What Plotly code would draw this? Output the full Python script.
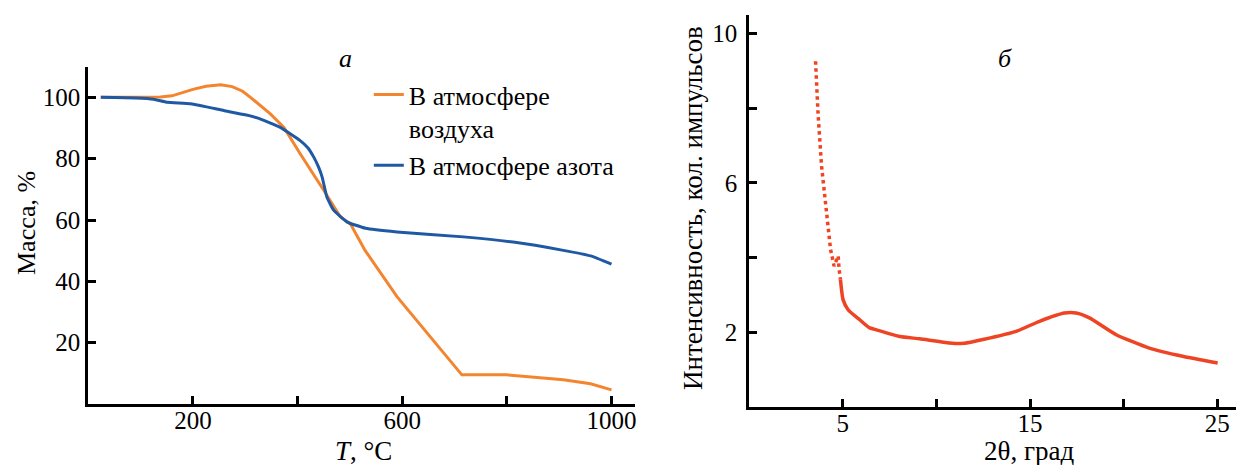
import plotly.graph_objects as go

# ---- Panel a: TGA ----
t_air = [24, 80, 138, 160, 180, 200, 225, 253, 275, 295, 310, 330, 348, 374, 405, 450, 482, 501, 529, 590, 714, 800, 908, 960, 1000]
m_air = [100, 100, 100.1, 100.5, 101.6, 102.6, 103.6, 104.1, 103.5, 102, 100, 97.3, 94.6, 90.2, 81.6, 69.7, 61, 58.8, 50.1, 35, 9.5, 9.5, 7.9, 6.6, 4.6]

t_n2 = [24, 90, 125, 151, 196, 259, 300, 323, 367, 405, 420, 431, 440, 447, 456, 469, 494, 530, 590, 717, 812, 908, 960, 1000]
m_n2 = [100, 99.8, 99.4, 98.4, 97.9, 95.7, 94.3, 93.3, 90.2, 85.9, 83.5, 80.5, 77.3, 74, 67.5, 63.2, 59.4, 57.3, 56.1, 54.5, 52.8, 50.1, 48.3, 45.6]

# ---- Panel b: XRD ----
tt_steep = [3.54, 3.68, 3.86, 4.04, 4.18, 4.34, 4.53, 4.75, 4.80, 4.87]
i_steep = [9.26, 7.81, 6.46, 5.56, 4.85, 4.22, 3.77, 4.04, 3.68, 3.41]
tt_rest = [4.87, 5.01, 5.28, 5.90, 6.40, 6.79, 8.04, 9.10, 10.70, 11.50, 12.48, 14.26, 15.50, 16.84, 17.46, 18.17, 19.60, 21.37, 23.15, 25.02]
i_rest = [3.41, 2.87, 2.60, 2.33, 2.12, 2.06, 1.88, 1.82, 1.71, 1.70, 1.80, 2.02, 2.29, 2.51, 2.51, 2.38, 1.93, 1.57, 1.35, 1.17]

x_ticks_a = [200, 400, 600, 800, 1000]
x_text_a = ["200", "", "600", "", "1000"]
y_ticks_a = [20, 40, 60, 80, 100]
x_ticks_b = [5, 10, 15, 20, 25]
x_text_b = ["5", "", "15", "", "25"]
y_ticks_b = [2, 4, 6, 8, 10]
y_text_b = ["2", "", "6", "", "10"]

ORANGE = "#F4852F"
BLUE = "#1F58A3"
RED = "#EE4424"
FONT = "Liberation Serif, Times New Roman, DejaVu Serif, serif"

fig = go.Figure()
fig.add_trace(go.Scatter(x=t_air, y=m_air, mode="lines", line=dict(color=ORANGE, width=3),
                         name="В атмосфере<br>воздуха", legendgroup="a", xaxis="x", yaxis="y"))
fig.add_trace(go.Scatter(x=t_n2, y=m_n2, mode="lines", line=dict(color=BLUE, width=3, shape="spline", smoothing=0.4),
                         name="В атмосфере азота", legendgroup="b", xaxis="x", yaxis="y"))
fig.add_trace(go.Scatter(x=tt_steep, y=i_steep, mode="lines", line=dict(color=RED, width=3.5, dash="dot"),
                         showlegend=False, xaxis="x2", yaxis="y2"))
fig.add_trace(go.Scatter(x=tt_rest, y=i_rest, mode="lines", line=dict(color=RED, width=3.5, shape="spline", smoothing=0.5),
                         showlegend=False, xaxis="x2", yaxis="y2"))

axis_common = dict(showline=True, linecolor="black", linewidth=3, ticks="inside", ticklen=8, tickwidth=2.5,
                   tickcolor="black", showgrid=False, zeroline=False,
                   tickfont=dict(family=FONT, size=25, color="black"))


def note(text, px, py, angle=0, size=27):
    return dict(text=text, x=px / 1236, y=1 - py / 465, xref="paper", yref="paper", textangle=angle,
                xanchor="center", yanchor="middle", showarrow=False, font=dict(family=FONT, size=size, color="black"))


fig.update_layout(
    width=1236, height=465, autosize=False,
    margin=dict(l=0, r=0, t=0, b=0),
    paper_bgcolor="white", plot_bgcolor="white",
    font=dict(family=FONT, size=25, color="black"),
    xaxis=dict(domain=[0.0714, 0.5138], range=[0, 1045], tickmode="array", tickvals=x_ticks_a, ticktext=x_text_a,
               anchor="y", ticklabelstandoff=-8, **axis_common),
    yaxis=dict(domain=[0.1312, 0.8566], range=[0, 110], tickmode="array", tickvals=y_ticks_a,
               anchor="x", **axis_common),
    xaxis2=dict(domain=[0.6062, 1.0], range=[0, 26], tickmode="array", tickvals=x_ticks_b, ticktext=x_text_b,
                anchor="y2", ticklabelstandoff=-8, **axis_common),
    yaxis2=dict(domain=[0.1254, 0.9677], range=[0, 10.5], tickmode="array", tickvals=y_ticks_b, ticktext=y_text_b,
                anchor="x2", ticklabelstandoff=4, **axis_common),
    showlegend=True,
    legend=dict(x=0.2984, y=0.847, xanchor="left", yanchor="top", bgcolor="rgba(0,0,0,0)",
                font=dict(family=FONT, size=26, color="black"), traceorder="grouped", tracegroupgap=0,
                valign="top", itemwidth=30),
    annotations=[
        note("Масса, %", 27, 223, -90, 26),
        note("<i>T</i>, °C", 363, 451),
        note("Интенсивность, кол. импульсов", 693, 208, -90),
        note("2θ, град", 1029, 451),
        note("<i>а</i>", 345, 58, 0, 26),
        note("<i>б</i>", 1005, 58, 0, 26),
    ],
)

fig.write_html("out.html", config={"displayModeBar": False},
               post_script="document.body.style.margin='0';document.body.style.padding='0';")
